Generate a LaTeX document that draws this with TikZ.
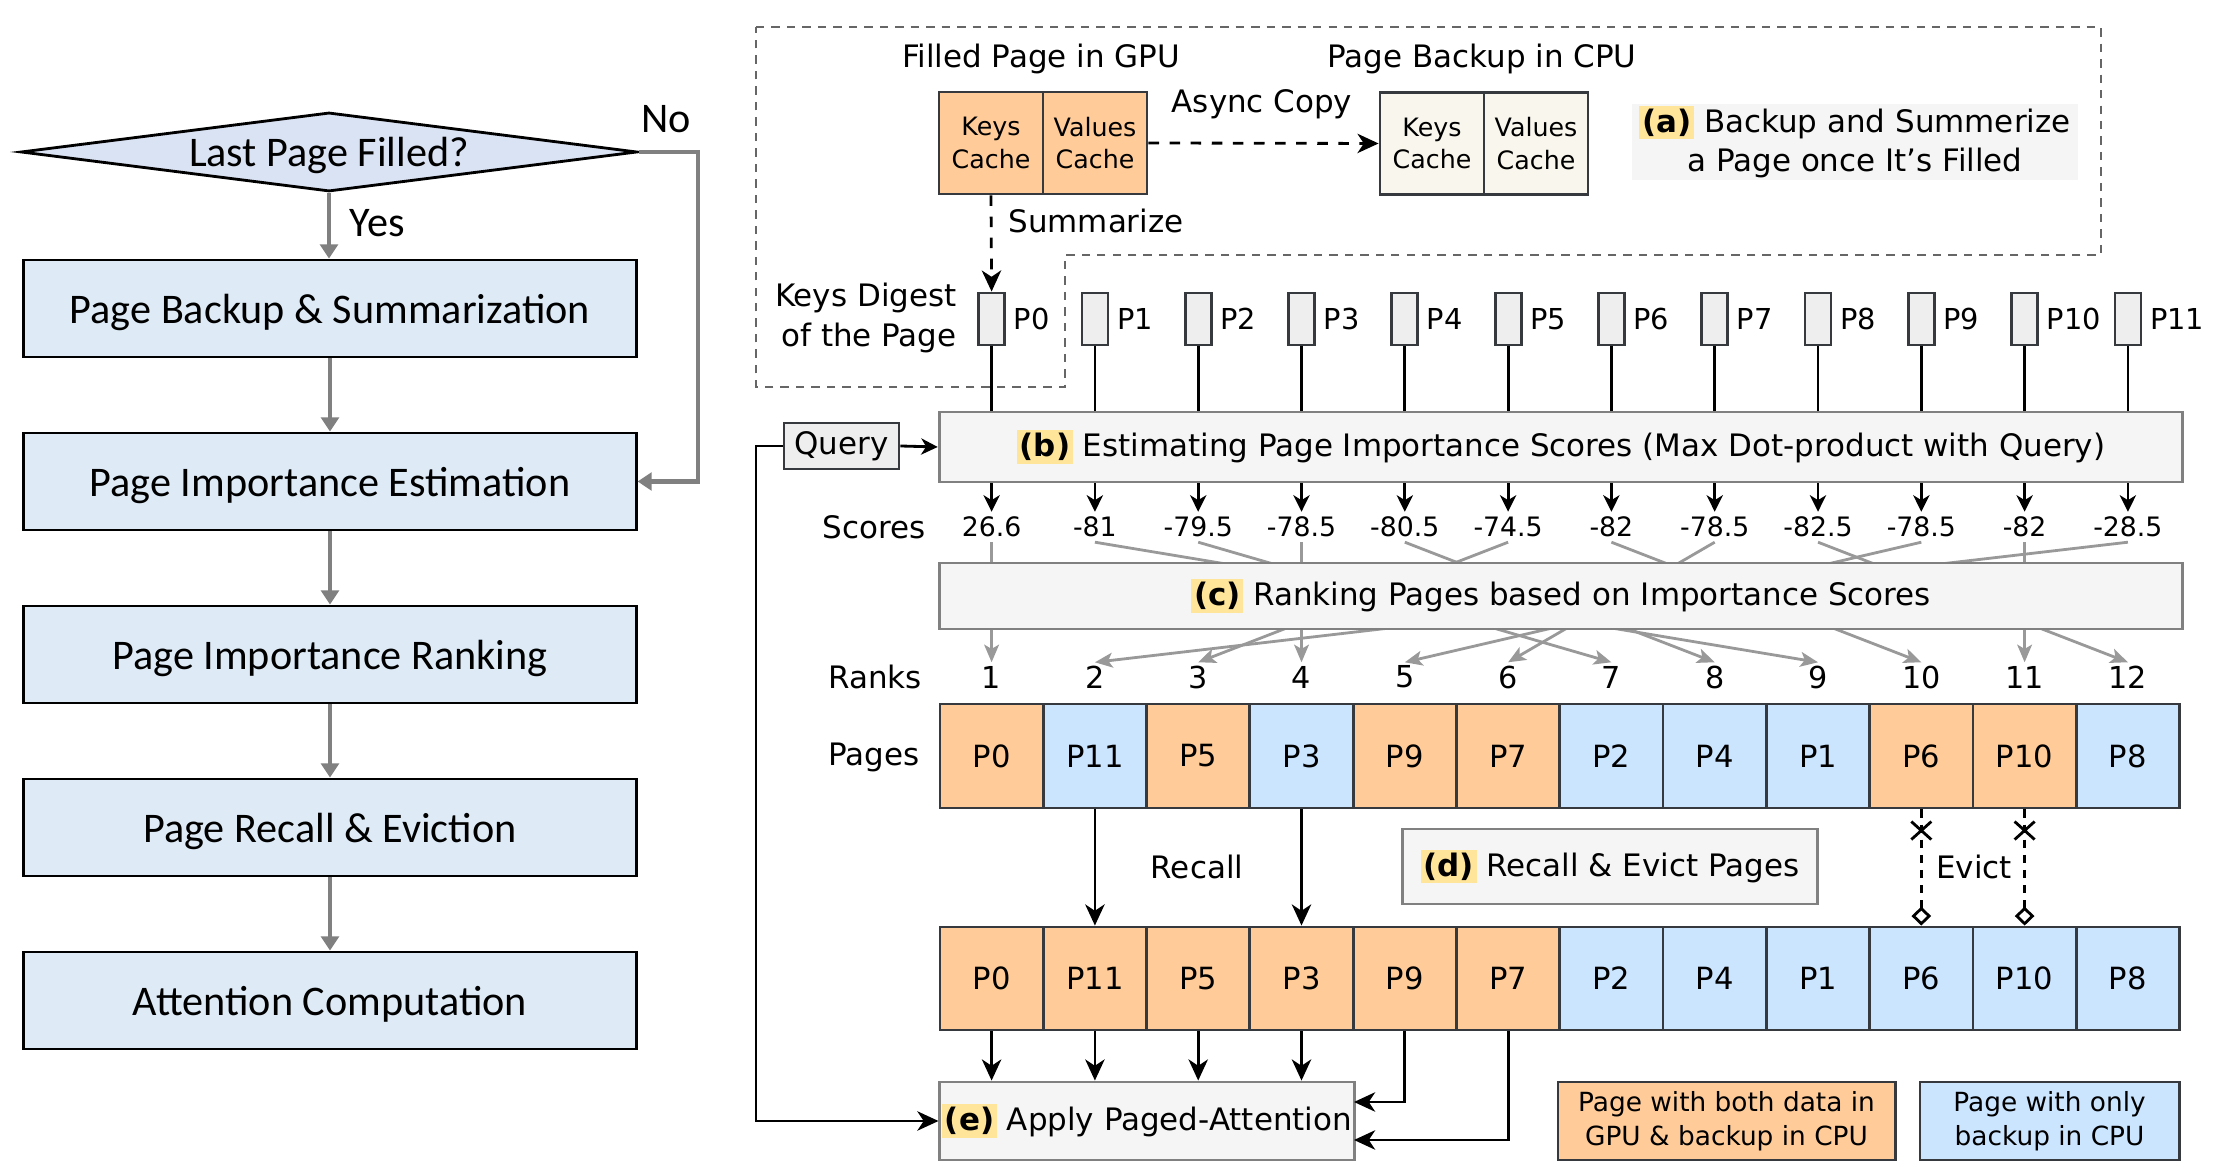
\documentclass[tikz,border=0pt]{standalone}
\usepackage{fontspec}
\setmainfont{DejaVu Sans}
\newfontfamily\flowfont{Carlito}
\usetikzlibrary{shapes.geometric,arrows.meta}
\definecolor{flowblue}{RGB}{222,235,247}
\definecolor{flowdiam}{RGB}{218,227,243}
\definecolor{pageorange}{RGB}{255,204,153}
\definecolor{pageblue}{RGB}{204,229,255}
\definecolor{cpucream}{RGB}{249,247,237}
\definecolor{boxgray}{RGB}{245,245,245}
\definecolor{digestgray}{RGB}{238,238,238}
\definecolor{tagyellow}{RGB}{255,229,153}
\definecolor{edgegray}{RGB}{54,57,61}
\definecolor{linegray}{RGB}{153,153,153}
\newcommand{\steptag}[1]{{\setlength{\fboxsep}{0.8pt}\colorbox{tagyellow}{\bfseries #1}}}
\newcommand{\fs}[1]{\fontsize{#1}{1.27\dimexpr #1pt\relax}\selectfont}

\begin{document}
\begin{tikzpicture}[x=0.01cm,y=-0.01cm,font=\fs{8.8},
    flowbox/.style={draw,thick,fill=flowblue,minimum width=6.12cm,minimum height=0.97cm,text depth=0pt,font=\flowfont\fs{12}},
    flowarrow/.style={draw=gray,line width=1.4pt,-{Triangle[length=4pt,width=5pt]}},
    arr/.style={thick,-{Stealth[length=6pt,width=5.5pt,inset=1.8pt]}},
    smallarr/.style={thick,-{Stealth[length=4.7pt,width=4.6pt,inset=1.4pt]}},
    rankarr/.style={draw=linegray,thick,-{Stealth[length=5pt,width=4.2pt,inset=1.2pt]}},
    stepbox/.style={draw=gray,thick,fill=boxgray,inner sep=0pt},
    cell/.style={draw=edgegray,thick,minimum width=1.033cm,minimum height=1.04cm,inner sep=0pt,font=\fs{8.7}},
    cachebox/.style={draw=edgegray,thick,minimum width=1.04cm,minimum height=1.02cm,inner sep=0pt,align=center,font=\fs{7.2}},
    digest/.style={draw=edgegray,thick,fill=digestgray,minimum width=0.26cm,minimum height=0.52cm,inner sep=0pt}]
\useasboundingbox (0,0) rectangle (2221,1174);

% flowchart on the left
\node[diamond,draw,thick,fill=flowdiam,aspect=7.7,inner sep=0pt,minimum width=6.16cm,minimum height=0.79cm,text depth=0pt,font=\flowfont\fs{12}] (f0) at (329,152) {Last Page Filled?};
\node[flowbox] (f1) at (330,308.5) {Page Backup \& Summarization};
\node[flowbox] (f2) at (330,481.5) {Page Importance Estimation};
\node[flowbox] (f3) at (330,654.5) {Page Importance Ranking};
\node[flowbox] (f4) at (330,827.5) {Page Recall \& Eviction};
\node[flowbox] (f5) at (330,1000.5) {Attention Computation};
\draw[flowarrow] (f0.south) -- (f0.south |- f1.north);
\draw[flowarrow] (f1) -- (f2);
\draw[flowarrow] (f2) -- (f3);
\draw[flowarrow] (f3) -- (f4);
\draw[flowarrow] (f4) -- (f5);
\coordinate (noturn) at (698,152);
\draw[flowarrow] (f0.east) -- (noturn) |- (f2.east);
\node[font=\flowfont\fs{12}] (yes) at (377,223) {Yes};
\node[font=\flowfont\fs{12}] (no) at (666,119) {No};

% (a) backup and summarize
\draw[dashed,thick,draw=gray!120,dash pattern=on 2.4pt off 2pt] (756,27) -- (2101,27) -- (2101,255) -- (1065,255) -- (1065,387) -- (756,387) -- cycle;
\node (gputitle) at (1041,59) {Filled Page in GPU};
\node (cputitle) at (1482,59) {Page Backup in CPU};
\node[cachebox,fill=pageorange] (gk) at (991,143) {Keys\\Cache};
\node[cachebox,fill=pageorange] (gv) at (1095,143) {Values\\Cache};
\node[cachebox,fill=cpucream] (ck) at (1432,143.5) {Keys\\Cache};
\node[cachebox,fill=cpucream] (cv) at (1536,143.5) {Values\\Cache};
\draw[arr,dashed] (gv.east) -- (ck.west);
\node (async) at (1262,104) {Async Copy};
\node[fill=boxgray,align=center,minimum width=4.45cm,minimum height=0.76cm,inner sep=0pt] (atext) at (1855,142)
  {\steptag{(a)} Backup and Summerize\\ a Page once It's Filled};
\node[align=right,anchor=east] (digtext) at (969,318) {Keys Digest\\of the Page};

% (b) estimating scores
\node[stepbox,minimum width=12.43cm,minimum height=0.7cm] (b) at (1561,447)
  {\steptag{(b)} Estimating Page Importance Scores (Max Dot-product with Query)};
\node[draw=edgegray,thick,fill=digestgray,minimum width=1.15cm,minimum height=0.46cm,inner sep=0pt] (q) at (841.5,446) {Query};
\draw[smallarr] (q.east) -- (b.west);
\foreach \i in {0,...,11} {
  \node[digest] (d\i) at ({991.6+103.3*\i},319) {};
  \node[anchor=west,inner sep=2pt,font=\fs{8.2}] (dl\i) at (d\i.east) {P\i};
  \draw[thick] (d\i.south) -- (d\i.south |- b.north);
}
\draw[arr,dashed] (gk.south) -- (d0.north);
\node (summ) at (1096,221) {Summarize};

% scores and ranks
\node (scorelab) at (874,527) {Scores};
\foreach \s [count=\i from 0] in {26.6,-81,-79.5,-78.5,-80.5,-74.5,-82,-78.5,-82.5,-78.5,-82,-28.5} {
  \node[minimum height=0.29cm,inner sep=0pt,font=\fs{7.6}] (s\i) at ({991.6+103.3*\i},527) {\s};
  \draw[smallarr] (s\i.north |- b.south) -- (s\i.north);
}
\node (ranklab) at (875,677) {Ranks};
\foreach \i in {1,...,12}
  \node[minimum height=0.28cm,inner sep=0pt,font=\fs{8.6}] (r\i) at ({991.6+103.3*(\i-1)},677) {\i};
\foreach \p/\r in {0/1,1/9,2/7,3/4,4/8,5/3,6/10,7/6,8/12,9/5,10/11,11/2}
  \draw[rankarr] (s\p.south) -- (r\r.north);
\node[stepbox,minimum width=12.43cm,minimum height=0.66cm] (c) at (1561,596)
  {\steptag{(c)} Ranking Pages based on Importance Scores};

% (d) recall and evict
\node (pagelab) at (874,757) {Pages};
\foreach \lab/\col [count=\i from 0] in {P0/pageorange,P11/pageblue,P5/pageorange,P3/pageblue,P9/pageorange,P7/pageorange,P2/pageblue,P4/pageblue,P1/pageblue,P6/pageorange,P10/pageorange,P8/pageblue}
  \node[cell,fill=\col] (pa\i) at ({991.6+103.3*\i},756) {\lab};
\foreach \lab/\col [count=\i from 0] in {P0/pageorange,P11/pageorange,P5/pageorange,P3/pageorange,P9/pageorange,P7/pageorange,P2/pageblue,P4/pageblue,P1/pageblue,P6/pageblue,P10/pageblue,P8/pageblue}
  \node[cell,fill=\col,minimum height=1.03cm] (pb\i) at ({991.6+103.3*\i},978.5) {\lab};
\draw[arr] (pa1.south) -- (pb1.north);
\draw[arr] (pa3.south) -- (pb3.north);
\node (recall) at (1197,867) {Recall};
\foreach \i in {9,10} {
  \draw[thick,dash pattern=on 2.3pt off 2pt,-{Diamond[open,length=5.4pt,width=5.6pt]}] (pa\i.south) -- (pb\i.north);
  \coordinate (x\i) at ([yshift=-6pt]pa\i.south);
  \draw[thick] (x\i) ++(-10,-9) -- ++(20,18) (x\i) ++(-10,9) -- ++(20,-18);
}
\node (evict) at (1974,867) {Evict};
\node[stepbox,minimum width=4.14cm,minimum height=0.75cm] (d) at (1610,866.5)
  {\steptag{(d)} Recall \& Evict Pages};

% (e) paged attention
\node[stepbox,minimum width=4.14cm,minimum height=0.78cm] (e) at (1147,1121)
  {\steptag{(e)} Apply Paged-Attention};
\foreach \i in {0,...,3}
  \draw[arr] (pb\i.south) -- (pb\i.south |- e.north);
\coordinate (e9) at (1354,1102);
\coordinate (e7) at (1354,1140);
\draw[arr] (pb4.south) |- (e9);
\draw[arr] (pb5.south) |- (e7);
\coordinate (qbend) at (756,446);
\draw[arr] (q.west) -- (qbend) |- (e.west);

% legend
\node[draw=edgegray,thick,fill=pageorange,align=center,minimum width=3.37cm,minimum height=0.78cm,inner sep=0pt,font=\fs{7.5}] (legboth) at (1726.5,1121)
  {Page with both data in\\GPU \& backup in CPU};
\node[draw=edgegray,thick,fill=pageblue,align=center,minimum width=2.59cm,minimum height=0.78cm,inner sep=0pt,font=\fs{7.5}] (legcpu) at (2049.5,1121)
  {Page with only\\backup in CPU};
\end{tikzpicture}
\end{document}
